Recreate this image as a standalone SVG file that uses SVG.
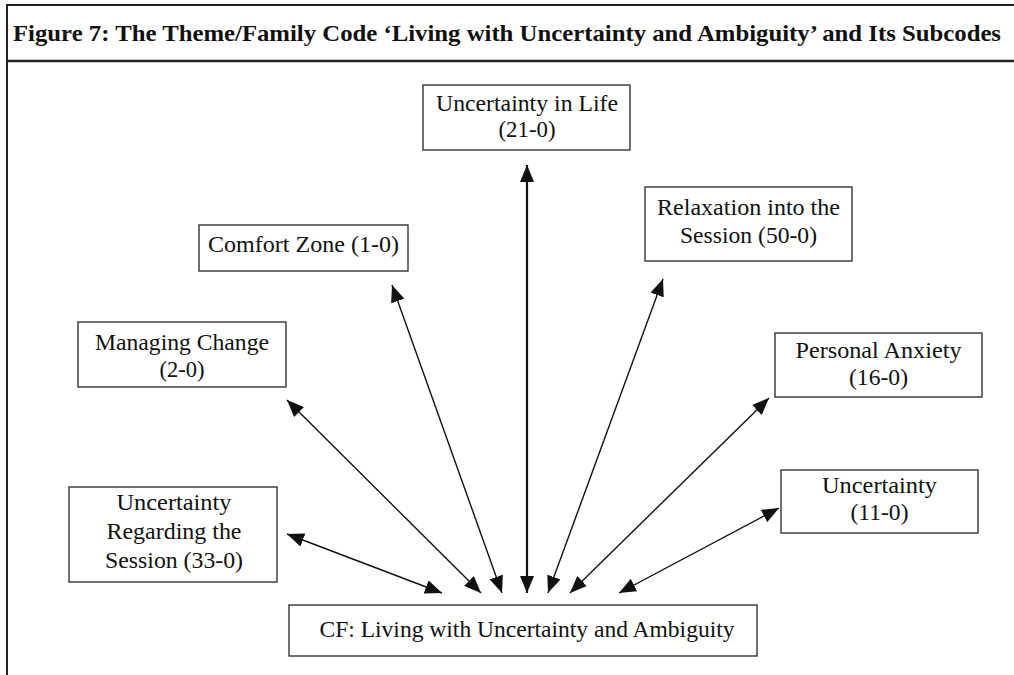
<svg xmlns="http://www.w3.org/2000/svg" width="1014" height="675" viewBox="0 0 1014 675">
  <style>
    .frame { stroke: #222; fill: none; }
    .box { fill: #fff; stroke: #333; stroke-width: 1.4; }
    .lbl { font-family: "Liberation Serif", "Times New Roman", serif; font-size: 24px; fill: #111; text-anchor: middle; }
    .title { font-family: "Liberation Serif", "Times New Roman", serif; font-size: 24px; font-weight: bold; fill: #111; }
    .conn { stroke: #111; stroke-width: 1.4; fill: none; marker-start: url(#head); marker-end: url(#head); }
    .conn.thick { stroke-width: 2.2; }
  </style>
  <defs>
    <marker id="head" markerUnits="userSpaceOnUse" markerWidth="18" markerHeight="14" refX="17" refY="7" orient="auto-start-reverse">
      <path d="M0,0 L17,7 L0,14 z" fill="#111"/>
    </marker>
  </defs>

  <rect width="1014" height="675" fill="#fff"/>

  <!-- figure frame and caption -->
  <g id="caption">
    <line class="frame" x1="6" y1="5" x2="1014" y2="5" stroke-width="2"/>
    <line class="frame" x1="7" y1="4" x2="7" y2="675" stroke-width="2"/>
    <line class="frame" x1="6" y1="61" x2="1014" y2="61" stroke-width="2.6" stroke="#000"/>
    <text class="title" x="13" y="41" textLength="988" lengthAdjust="spacingAndGlyphs">Figure 7: The Theme/Family Code ‘Living with Uncertainty and Ambiguity’ and Its Subcodes</text>
  </g>

  <!-- connectors between the core family and its subcodes -->
  <g id="connectors">
    <line class="conn" x1="287" y1="534" x2="442" y2="593"/>
    <line class="conn" x1="287" y1="400" x2="481" y2="593"/>
    <line class="conn" x1="392" y1="285" x2="502" y2="593"/>
    <line class="conn thick" x1="527" y1="165" x2="527" y2="593"/>
    <line class="conn" x1="663" y1="279" x2="548" y2="593"/>
    <line class="conn" x1="769" y1="398" x2="570" y2="593"/>
    <line class="conn" x1="779" y1="508" x2="619" y2="593"/>
  </g>

  <g id="uncertainty-in-life">
    <rect class="box" x="423" y="85" width="207" height="65"/>
    <text class="lbl" x="527" y="111" textLength="182" lengthAdjust="spacingAndGlyphs">Uncertainty in Life</text>
    <text class="lbl" x="527" y="137" textLength="57" lengthAdjust="spacingAndGlyphs">(21-0)</text>
  </g>

  <g id="comfort-zone">
    <rect class="box" x="199" y="225" width="209" height="46"/>
    <text class="lbl" x="303.5" y="252" textLength="191" lengthAdjust="spacingAndGlyphs">Comfort Zone (1-0)</text>
  </g>

  <g id="relaxation">
    <rect class="box" x="645" y="187" width="207" height="74"/>
    <text class="lbl" x="748.5" y="215" textLength="183" lengthAdjust="spacingAndGlyphs">Relaxation into the</text>
    <text class="lbl" x="748.5" y="243" textLength="137" lengthAdjust="spacingAndGlyphs">Session (50-0)</text>
  </g>

  <g id="managing-change">
    <rect class="box" x="78" y="322" width="208" height="65"/>
    <text class="lbl" x="182" y="350" textLength="174" lengthAdjust="spacingAndGlyphs">Managing Change</text>
    <text class="lbl" x="182" y="377" textLength="45" lengthAdjust="spacingAndGlyphs">(2-0)</text>
  </g>

  <g id="personal-anxiety">
    <rect class="box" x="775" y="333" width="207" height="64"/>
    <text class="lbl" x="878.5" y="358" textLength="166" lengthAdjust="spacingAndGlyphs">Personal Anxiety</text>
    <text class="lbl" x="878.5" y="385" textLength="59" lengthAdjust="spacingAndGlyphs">(16-0)</text>
  </g>

  <g id="uncertainty">
    <rect class="box" x="781" y="470" width="197" height="63"/>
    <text class="lbl" x="879.5" y="493" textLength="115" lengthAdjust="spacingAndGlyphs">Uncertainty</text>
    <text class="lbl" x="879.5" y="520" textLength="58" lengthAdjust="spacingAndGlyphs">(11-0)</text>
  </g>

  <g id="uncertainty-session">
    <rect class="box" x="69" y="487" width="208" height="95"/>
    <text class="lbl" x="174" y="510" textLength="115" lengthAdjust="spacingAndGlyphs">Uncertainty</text>
    <text class="lbl" x="174" y="539" textLength="135" lengthAdjust="spacingAndGlyphs">Regarding the</text>
    <text class="lbl" x="174" y="568" textLength="138" lengthAdjust="spacingAndGlyphs">Session (33-0)</text>
  </g>

  <g id="core-family">
    <rect class="box" x="289" y="605" width="468" height="51"/>
    <text class="lbl" x="527" y="637" textLength="415" lengthAdjust="spacingAndGlyphs">CF: Living with Uncertainty and Ambiguity</text>
  </g>
</svg>
